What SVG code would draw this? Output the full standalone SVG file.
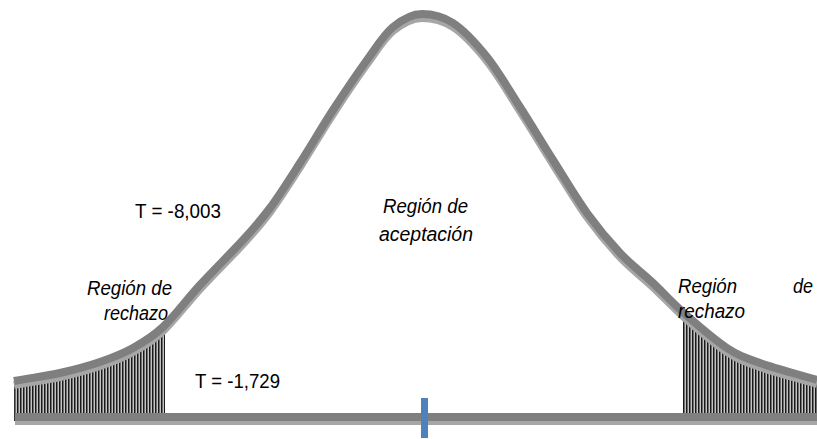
<svg xmlns="http://www.w3.org/2000/svg" width="817" height="439" viewBox="0 0 817 439">
<style>
.lbl{font-family:"Liberation Sans",Arial,sans-serif;font-size:20.5px;fill:#000}
.it{font-style:italic}
.dark{fill:none;stroke:#7f7f7f;stroke-width:8;stroke-linecap:butt;stroke-linejoin:round}
.shadow{fill:none;stroke:#a6a6a6;stroke-width:8;stroke-linecap:butt;stroke-linejoin:round}
</style>
<defs>
<pattern id="hatch" patternUnits="userSpaceOnUse" x="14" y="0" width="3" height="10">
<rect x="0" y="0" width="3" height="10" fill="#c4c4c4"/>
<rect x="0" y="0" width="1" height="10" fill="#1a1a1a"/>
<rect x="1" y="0" width="1" height="10" fill="#6e6e6e"/>
</pattern>
<path id="curve" d="M14,381 C29.3,378 45.7,376.3 60,373 C74.3,369.7 87.8,366.2 100,362 C112.2,357.8 122.5,353.8 133,348 C143.5,342.2 151.8,337.5 163,327 C174.2,316.5 186.7,299.5 200,285 C213.3,270.5 231.3,252.8 243,240 C254.7,227.2 260.5,220.8 270,208 C279.5,195.2 289.5,179.3 300,163 C310.5,146.7 321.8,127.2 333,110 C344.2,92.8 357,73.8 367,60 C377,46.2 383.8,34.5 393,27 C402.2,19.5 412,14 422,14 C432,14 442.2,16 453,23 C463.8,30 475.8,43 487,57 C498.2,71 509,89.8 520,107 C531,124.2 541.8,142.3 553,160 C564.2,177.7 575.8,197.5 587,213 C598.2,228.5 609,241.3 620,253 C631,264.7 642.2,272.8 653,283 C663.8,293.2 672.7,303.2 685,314 C697.3,324.8 714.5,339.8 727,348 C739.5,356.2 745,357.7 760,363 C775,368.3 798,374.3 817,380"/>
</defs>
<g id="hatch-left">
<path d="M14,381 C29.3,378 45.7,376.3 60,373 C74.3,369.7 87.8,366.2 100,362 C112.2,357.8 122.5,353.8 133,348 C143.5,342.2 151.8,337.5 163,327 L165,326 L165,414 L14,414 Z" fill="url(#hatch)"/>
<line x1="14.5" y1="381" x2="14.5" y2="421" stroke="#333" stroke-width="1"/>
</g>
<g id="hatch-right">
<path d="M683,312 L685,314 C697.3,324.8 714.5,339.8 727,348 C739.5,356.2 745,357.7 760,363 C775,368.3 798,374.3 817,380 L817,414 L683,414 Z" fill="url(#hatch)"/>
</g>
<g id="curve-line">
<use href="#curve" class="shadow" transform="translate(0,4)"/>
<use href="#curve" class="dark"/>
</g>
<g id="axis">
<line x1="15" y1="421" x2="817" y2="421" stroke="#a6a6a6" stroke-width="8"/>
<line x1="15" y1="417" x2="817" y2="417" stroke="#7f7f7f" stroke-width="8"/>
<rect id="mean-tick" x="421" y="398" width="7" height="40" fill="#4f81bd"/>
</g>
<g id="labels">
<text class="lbl" x="135" y="218" textLength="86" lengthAdjust="spacingAndGlyphs">T = -8,003</text>
<text class="lbl it" x="383" y="213" textLength="85" lengthAdjust="spacingAndGlyphs">Región de</text>
<text class="lbl it" x="379" y="241" textLength="94" lengthAdjust="spacingAndGlyphs">aceptación</text>
<text class="lbl it" x="87" y="295" textLength="85" lengthAdjust="spacingAndGlyphs">Región de</text>
<text class="lbl it" x="104" y="320" textLength="64" lengthAdjust="spacingAndGlyphs">rechazo</text>
<text class="lbl it" x="678" y="293" textLength="59" lengthAdjust="spacingAndGlyphs">Región</text>
<text class="lbl it" x="793" y="293" textLength="20" lengthAdjust="spacingAndGlyphs">de</text>
<text class="lbl it" x="678" y="318" textLength="67" lengthAdjust="spacingAndGlyphs">rechazo</text>
<text class="lbl" x="195" y="388" textLength="85" lengthAdjust="spacingAndGlyphs">T = -1,729</text>
</g>
</svg>
